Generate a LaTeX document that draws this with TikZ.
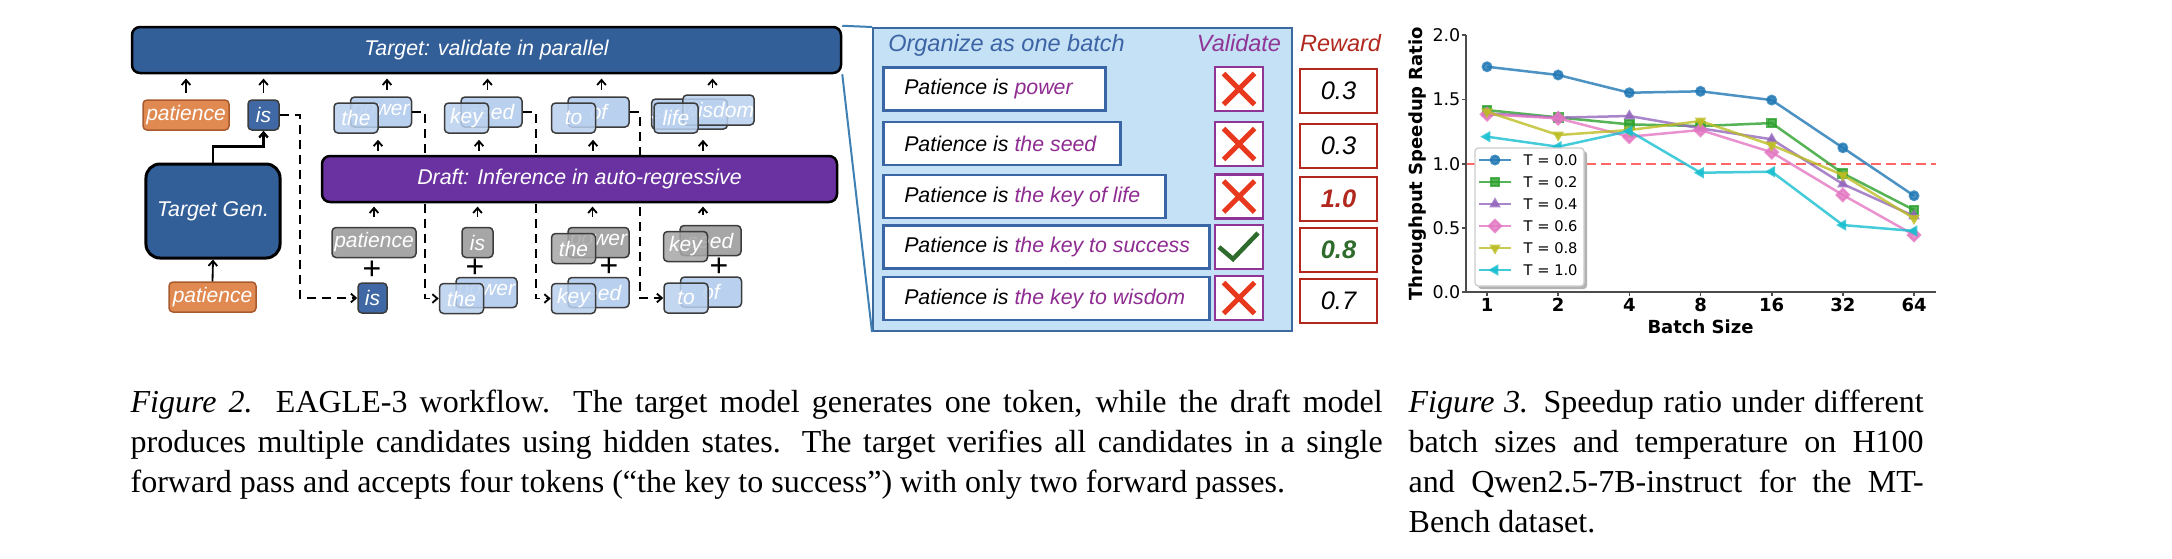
\documentclass[tikz,border=0pt]{standalone}
\usepackage{fontspec}
\setmainfont{Liberation Serif}
\newfontfamily\arialf{Liberation Sans}
\newfontfamily\dejavuf{DejaVu Sans}
\usetikzlibrary{arrows.meta,plotmarks}

\definecolor{tgtblue}{HTML}{335F99}
\definecolor{drfpurple}{HTML}{6A32A0}
\definecolor{tokblue}{HTML}{3F68A5}
\definecolor{toklight}{HTML}{B9D0EE}
\definecolor{tokgrey}{HTML}{A6A6A6}
\definecolor{tokorange}{HTML}{E08A52}
\definecolor{orangeline}{HTML}{A85A2E}
\definecolor{tokline}{HTML}{3C3C3C}
\definecolor{batchfill}{HTML}{C5E1F5}
\definecolor{batchline}{HTML}{3C69A0}
\definecolor{zoomline}{HTML}{3E80B3}
\definecolor{sentline}{HTML}{3A66A6}
\definecolor{orgblue}{HTML}{3C64A5}
\definecolor{valpurple}{HTML}{8E3596}
\definecolor{contpurple}{HTML}{8E2C91}
\definecolor{rewred}{HTML}{B2281F}
\definecolor{xred}{HTML}{E8391E}
\definecolor{okgreen}{HTML}{2F6B2C}
\definecolor{cbl}{HTML}{1F77B4}
\definecolor{cgr}{HTML}{2CA02C}
\definecolor{cpu}{HTML}{9467BD}
\definecolor{cpk}{HTML}{E377C2}
\definecolor{col}{HTML}{BCBD22}
\definecolor{ccy}{HTML}{17BECF}

\tikzset{
  tok/.style={draw=tokline, line width=0.45pt, rounded corners=1.2pt, text=white,
    font=\arialf\itshape\fontsize{6.3}{7}\selectfont, inner sep=0pt, minimum height=9pt},
  tkfront/.style={minimum width=13.2pt, fill opacity=0.85, text opacity=1},
  tkback/.style={minimum width=18.3pt},
  tklight/.style={fill=toklight},
  tkgrey/.style={fill=tokgrey},
  tkorange/.style={fill=tokorange, draw=orangeline},
  tkdark/.style={fill=tokblue},
  mbar/.style={draw=black, line width=0.75pt, rounded corners=2.4pt, text=white,
    font=\arialf\itshape\fontsize{6.4}{7}\selectfont, minimum height=13.8pt},
  arr/.style={-{Straight Barb[length=1.5pt,width=2.6pt]}, line width=0.55pt},
  dsh/.style={arr, dash pattern=on 2.7pt off 1.8pt},
  plussign/.style={font=\arialf\fontsize{9.6}{10}\selectfont, inner sep=0pt},
  hdtext/.style={font=\arialf\itshape\fontsize{7.05}{8}\selectfont, inner sep=0pt},
  sent/.style={draw=sentline, line width=0.75pt, fill=white, anchor=west, inner xsep=6.3pt,
    minimum height=12.9pt, font=\arialf\itshape\fontsize{6.4}{7}\selectfont},
  valbox/.style={draw=valpurple, line width=0.75pt, fill=white, minimum width=14.4pt, minimum height=13.2pt},
  rewbox/.style={draw=rewred, line width=0.75pt, fill=white, minimum width=23.1pt, minimum height=13.2pt,
    font=\arialf\itshape\fontsize{7.6}{8}\selectfont},
  xmk/.style={draw=xred, line width=1.5pt},
  okmk/.style={draw=okgreen, line width=1.35pt},
  spine/.style={draw=black!70, line width=0.5pt},
  ser/.style={color=#1, line width=0.75pt, opacity=0.8, mark size=1.25pt},
  ytk/.style={font=\dejavuf\fontsize{5.25}{6}\selectfont, inner sep=0pt},
  btk/.style={font=\dejavuf\bfseries\fontsize{5.4}{6}\selectfont, inner sep=0pt},
  legtxt/.style={font=\dejavuf\fontsize{4.4}{5}\selectfont, inner sep=0pt, anchor=west},
  captext/.style={anchor=north west, inner sep=0pt, align=justify, font=\fontsize{9.6}{12}\selectfont}
}

\newcommand\tokpair[6]{%
  \node[tok,#4,tkback] (#1b) at (#2,#3) {#5};
  \node[tok,#4,tkfront] (#1f) at ([shift={(-25,6)}]#1b) {#6};}

\begin{document}
\begin{tikzpicture}[x=0.3pt,y=-0.3pt]
\useasboundingbox (0,0) rectangle (2172,558);

% target model
\node[tok,tkorange,minimum width=25.8pt] (pat1) at (186,115) {patience};
\node[tok,tkdark,minimum width=9.3pt] (is1) at (263.5,115) {is};
\node[tok,tkorange,minimum width=26.1pt] (pat0) at (212.5,297) {patience};
\node[mbar, rounded corners=4.2pt, line width=0.9pt, fill=tgtblue, minimum width=39pt,
  minimum height=28.2pt] (tgen) at (213,211) {Target Gen.};
\draw[arr] (pat0.north) -- (tgen.south);
\draw[arr, line width=0.7pt] (tgen.north) -- ++(0,-16) -| (is1.south);

% draft tokens
\tokpair{pA}{381}{112}{tklight}{power}{the}
\tokpair{pB}{491.5}{112}{tklight}{seed}{key}
\tokpair{pC}{598.5}{112}{tklight}{of}{to}
\node[tok,tklight,tkback] (pDs) at (689.5,114) {success};
\node[tok,tklight,tkback,fill opacity=0.85,text opacity=1] (pDw) at (718.5,110) {wisdom};
\node[tok,tklight,tkfront] (pDl) at (676,118) {life};

\node[tok,tkgrey,minimum width=25.2pt] (patg) at (374,242.5) {patience};
\node[tok,tkgrey,minimum width=9.3pt] (isg) at (477.5,242.5) {is};
\tokpair{pE}{598.5}{242.5}{tkgrey}{power}{the}
\tokpair{pF}{710.5}{240.5}{tkgrey}{seed}{key}

\node[tok,tkdark,minimum width=8.7pt] (isb) at (372.5,298) {is};
\tokpair{pG}{486.5}{292.5}{tklight}{power}{the}
\tokpair{pH}{598.5}{292.5}{tklight}{seed}{key}
\tokpair{pI}{711}{292}{tklight}{of}{to}

\node[plussign] (pl1) at (372,270) {+};
\node[plussign] (pl2) at (475,268) {+};
\node[plussign] (pl3) at (609,267) {+};
\node[plussign] (pl4) at (719,267) {+};

\draw[dsh] (is1.east) -- ++(20,0) |- (isb.west);
\draw[dsh] (pAb.east) -- ++(13,0) |- (pGf.west);
\draw[dsh] (pBb.east) -- ++(13,0) |- (pHf.west);
\draw[dsh] (pCb.east) -- ++(10,0) |- (pIf.west);

\node[mbar, fill=tgtblue, minimum width=212.7pt] (tgt) at (486.5,50) {Target: validate in parallel};
\node[mbar, fill=drfpurple, minimum width=154.5pt] (dft) at (579.5,179) {Draft: Inference in auto-regressive};

\foreach \n/\dx in {pat1/0, is1/0, pAb/6, pBb/-4, pCb/3, pDw/-6}
  \draw[arr, shorten <=2pt, shorten >=1.3pt] ([xshift=\dx*0.3pt]\n.north) -- ([xshift=\dx*0.3pt]\n.north |- tgt.south);
\foreach \b/\f/\dx in {pAb/pAf/-3, pBb/pBf/-12.5, pCb/pCf/-5.5, pDw/pDl/-15.5}
  \draw[arr, shorten <=1.2pt, shorten >=1.8pt] ([xshift=\dx*0.3pt]\b.south |- dft.north) -- ([xshift=\dx*0.3pt]\b.south |- \f.south);
\foreach \n/\dx in {patg/0, isg/0, pEb/-6, pFb/-7.5}
  \draw[arr, shorten <=3pt, shorten >=1pt] ([xshift=\dx*0.3pt]\n.north) -- ([xshift=\dx*0.3pt]\n.north |- dft.south);

% one batch
\node[draw=batchline, fill=batchfill, line width=0.6pt, minimum width=125.7pt, minimum height=90.9pt,
  inner sep=0pt] (batch) at (1082.5,179.5) {};
\draw[zoomline, line width=0.6pt] (tgt.north east) -- (batch.north west);
\draw[zoomline, line width=0.6pt] (tgt.south east) -- (batch.south west);
\node[hdtext, text=orgblue] (orgt) at (1006.5,45) {Organize as one batch};
\node[hdtext, text=valpurple] (valt) at (1239,43) {Validate};
\node[hdtext, text=rewred] (rewt) at (1340.5,43) {Reward};

\foreach \i/\y/\w/\txt in {1/89/54/power, 2/143.5/58.5/the seed, 3/196.5/72/the key of life,
    4/247/85.2/the key to success, 5/298.5/85.2/the key to wisdom}
  \node[sent] (s\i) at (882,\y) {\makebox[\w pt][l]{Patience is \textcolor{contpurple}{\txt}}};
\foreach \i/\y in {1/89, 2/144, 3/196.5, 4/247, 5/298}
  \node[valbox] (v\i) at (1239,\y) {};
\foreach \i in {1,2,3,5}
  \draw[xmk] ([shift={(-15.5,-15.5)}]v\i.center) -- ([shift={(15.5,15.5)}]v\i.center)
    ([shift={(-15.5,15.5)}]v\i.center) -- ([shift={(15.5,-15.5)}]v\i.center);
\draw[okmk] ([shift={(-20,0)}]v4.center) -- ([shift={(-6,12)}]v4.center) -- ([shift={(19,-14)}]v4.center);
\foreach \i/\y/\val in {1/91/0.3, 2/146/0.3, 3/199/{\bfseries\color{rewred}1.0},
    4/250/{\bfseries\color{okgreen}0.8}, 5/301/0.7}
  \node[rewbox] (r\i) at (1338.5,\y) {\val};

% speedup chart
\begin{scope}[shift={(1487,292.3)}, x=21.35pt, y=38.58pt]
  \draw[red!60, line width=0.6pt, dash pattern=on 3pt off 1.5pt] (-0.295,1) -- (6.31,1);
  \draw[spine] (-0.295,2) -- (-0.295,0) -- (6.31,0);
  \foreach \v in {0.0,0.5,1.0,1.5,2.0} {
    \draw[spine] (-0.295,\v) -- ++(-1.2pt,0);
    \node[ytk, anchor=east] (yt\v) at (-0.365,\v) {\v};
  }
  \foreach \lab [count=\i from 0] in {1,2,4,8,16,32,64} {
    \draw[spine] (\i,0) -- ++(0,-1.2pt);
    \node[btk] (xt\i) at (\i,-0.1) {\lab};
  }
  \node[btk] (xlab) at (3,-0.27) {Batch Size};
  \node[btk, rotate=90] (ylab) at (-0.97,1) {Throughput Speedup Ratio};
  \draw[ser=cbl] plot[mark=*] coordinates {(0,1.754) (1,1.69) (2,1.552) (3,1.563) (4,1.495) (5,1.124) (6,0.751)};
  \draw[ser=cgr] plot[mark=square*] coordinates {(0,1.417) (1,1.36) (2,1.306) (3,1.293) (4,1.316) (5,0.925) (6,0.64)};
  \draw[ser=cpu] plot[mark=triangle*] coordinates {(0,1.392) (1,1.358) (2,1.371) (3,1.275) (4,1.19) (5,0.842) (6,0.593)};
  \draw[ser=cpk] plot[mark=square*, mark options={rotate=45}] coordinates {(0,1.384) (1,1.353) (2,1.21) (3,1.262) (4,1.089) (5,0.757) (6,0.446)};
  \draw[ser=col] plot[mark=triangle*, mark options={rotate=180}] coordinates {(0,1.404) (1,1.223) (2,1.262) (3,1.332) (4,1.145) (5,0.912) (6,0.575)};
  \draw[ser=ccy] plot[mark=triangle*, mark options={rotate=90}] coordinates {(0,1.21) (1,1.132) (2,1.254) (3,0.93) (4,0.938) (5,0.523) (6,0.477)};
\end{scope}

\fill[black!30, rounded corners=1pt] (1478,151) rectangle (1587,289);
\node[draw=black!20, fill=white, rounded corners=1pt, minimum width=32.7pt, minimum height=41.4pt,
  inner sep=0pt] (leg) at (1529.5,217) {};
\foreach \c/\mk/\rot/\t [count=\k from 0] in {cbl/*/0/0.0, cgr/square*/0/0.2, cpu/triangle*/0/0.4,
    cpk/square*/45/0.6, col/triangle*/180/0.8, ccy/triangle*/90/1.0} {
  \pgfmathsetmacro\ly{160+22*\k}
  \draw[ser=\c] (1479,\ly) -- (1511,\ly);
  \draw[ser=\c] plot[mark=\mk, mark options={rotate=\rot}] coordinates {(1495,\ly)};
  \node[legtxt] (lg\k) at (1523,\ly) {T = \t};
}

% captions
\node[captext, text width=375.6pt] (cap2) at (130,389) {\textit{Figure 2.} EAGLE-3 workflow. The target model generates one token, while the draft model\linebreak produces multiple candidates using hidden states. The target verifies all candidates in a single\linebreak forward pass and accepts four tokens (“the key to success”) with only two forward passes.};
\node[captext, text width=154.5pt] (cap3) at (1408,389) {\textit{Figure 3.} Speedup ratio under different\linebreak batch sizes and temperature on H100\linebreak and Qwen2.5-7B-instruct for the MT-\linebreak Bench dataset.};
\end{tikzpicture}
\end{document}
